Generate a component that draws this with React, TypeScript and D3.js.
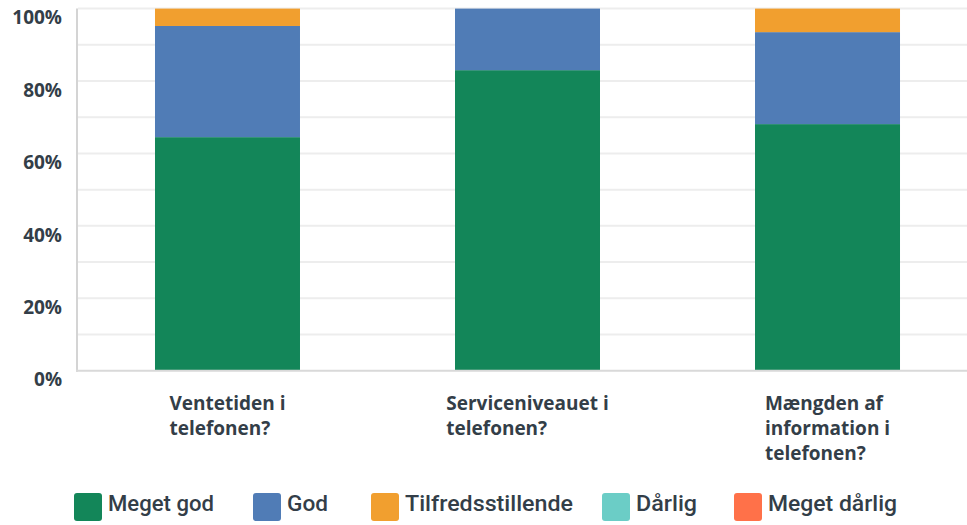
import React, { useEffect, useRef } from 'react';
import * as d3 from 'd3';

const categories = ['Ventetiden i\ntelefonen?', 'Serviceniveauet i\ntelefonen?', 'Mængden af\ninformation i\ntelefonen?'];
const seriesNames = ['Meget god', 'God', 'Tilfredsstillende', 'Dårlig', 'Meget dårlig'];
const megetGod = [64.5, 83.0, 68.1];
const god = [30.7, 17.0, 25.4];
const tilfredsstillende = [4.8, 0, 6.5];
const daarlig = [0, 0, 0];
const megetDaarlig = [0, 0, 0];
const yTicks = [0, 20, 40, 60, 80, 100];
const gridTicks = [10, 20, 30, 40, 50, 60, 70, 80, 90, 100];
const colors = ['#138659', '#507CB6', '#F19F2F', '#6BCDC6', '#FF7149'];

const W = 967;
const H = 525;

export default function App() {
  const ref = useRef<SVGSVGElement>(null);

  useEffect(() => {
    const svg = d3.select(ref.current);
    svg.selectAll('*').remove();

    const rows = categories.map((c, i) => ({
      cat: c,
      'Meget god': megetGod[i],
      God: god[i],
      Tilfredsstillende: tilfredsstillende[i],
      'Dårlig': daarlig[i],
      'Meget dårlig': megetDaarlig[i],
    }));

    const x = d3.scaleBand<string>().domain(categories).range([77.5, 977.5]).paddingInner(0.5167).paddingOuter(0.2583);
    const y = d3.scaleLinear().domain([0, 100]).range([370.7, 8.6]);

    // grid
    svg.append('g').selectAll('line').data(gridTicks).join('line')
      .attr('x1', 78).attr('x2', W)
      .attr('y1', (d) => y(d)).attr('y2', (d) => y(d))
      .attr('stroke', '#ededed').attr('stroke-width', 2);

    // bars
    const stack = d3.stack<any>().keys(seriesNames)(rows);
    const g = svg.append('g');
    stack.forEach((layer, si) => {
      g.selectAll(null).data(layer).join('rect')
        .attr('x', (d: any) => x(d.data.cat)!)
        .attr('width', x.bandwidth())
        .attr('y', (d: any) => y(d[1]))
        .attr('height', (d: any) => Math.max(0, y(d[0]) - y(d[1])))
        .attr('fill', colors[si]);
    });

    // axes lines
    svg.append('line').attr('x1', 77).attr('x2', 77).attr('y1', y(100)).attr('y2', y(0) + 1)
      .attr('stroke', '#d4d4d4').attr('stroke-width', 2);
    svg.append('line').attr('x1', 76).attr('x2', W).attr('y1', y(0)).attr('y2', y(0))
      .attr('stroke', '#d9d9d9').attr('stroke-width', 2);

    const labelFont = '"Open Sans", sans-serif';

    // y labels
    svg.append('g').selectAll('text').data(yTicks).join('text')
      .attr('x', 62).attr('y', (d) => y(d) + 9)
      .attr('dy', '0.35em')
      .attr('text-anchor', 'end')
      .attr('font-family', labelFont).attr('font-weight', 700).attr('font-size', 19)
      .attr('fill', '#333e48')
      .text((d) => d + '%');

    // x labels
    categories.forEach((c) => {
      const lines = c.split('\n');
      const t = svg.append('text')
        .attr('font-family', labelFont).attr('font-weight', 700).attr('font-size', 19)
        .attr('fill', '#333e48');
      const spans = lines.map((l, li) => t.append('tspan').attr('y', 410 + li * 25).text(l));
      const maxW = d3.max(spans, (s) => (s.node() as SVGTSpanElement).getComputedTextLength()) || 0;
      const left = x(c)! + x.bandwidth() / 2 - maxW / 2;
      spans.forEach((s) => s.attr('x', left));
    });

    // legend
    const legX = [74, 253, 371, 602, 734];
    const legW = [106, 41, 168, 61, 129];
    const lg = svg.append('g');
    seriesNames.forEach((s, i) => {
      lg.append('rect').attr('x', legX[i]).attr('y', 493).attr('width', 28).attr('height', 28)
        .attr('rx', 3).attr('fill', colors[i]);
      lg.append('text').attr('x', legX[i] + 34).attr('y', 511)
        .attr('font-family', 'Roboto, sans-serif').attr('font-weight', 500).attr('font-size', 22)
        .attr('fill', '#333e48')
        .attr('textLength', legW[i]).attr('lengthAdjust', 'spacingAndGlyphs')
        .text(s);
    });
  }, []);

  return (
    <svg ref={ref} width={W} height={H} style={{ position: 'absolute', left: 0, top: 0, display: 'block', background: '#fff' }} />
  );
}
